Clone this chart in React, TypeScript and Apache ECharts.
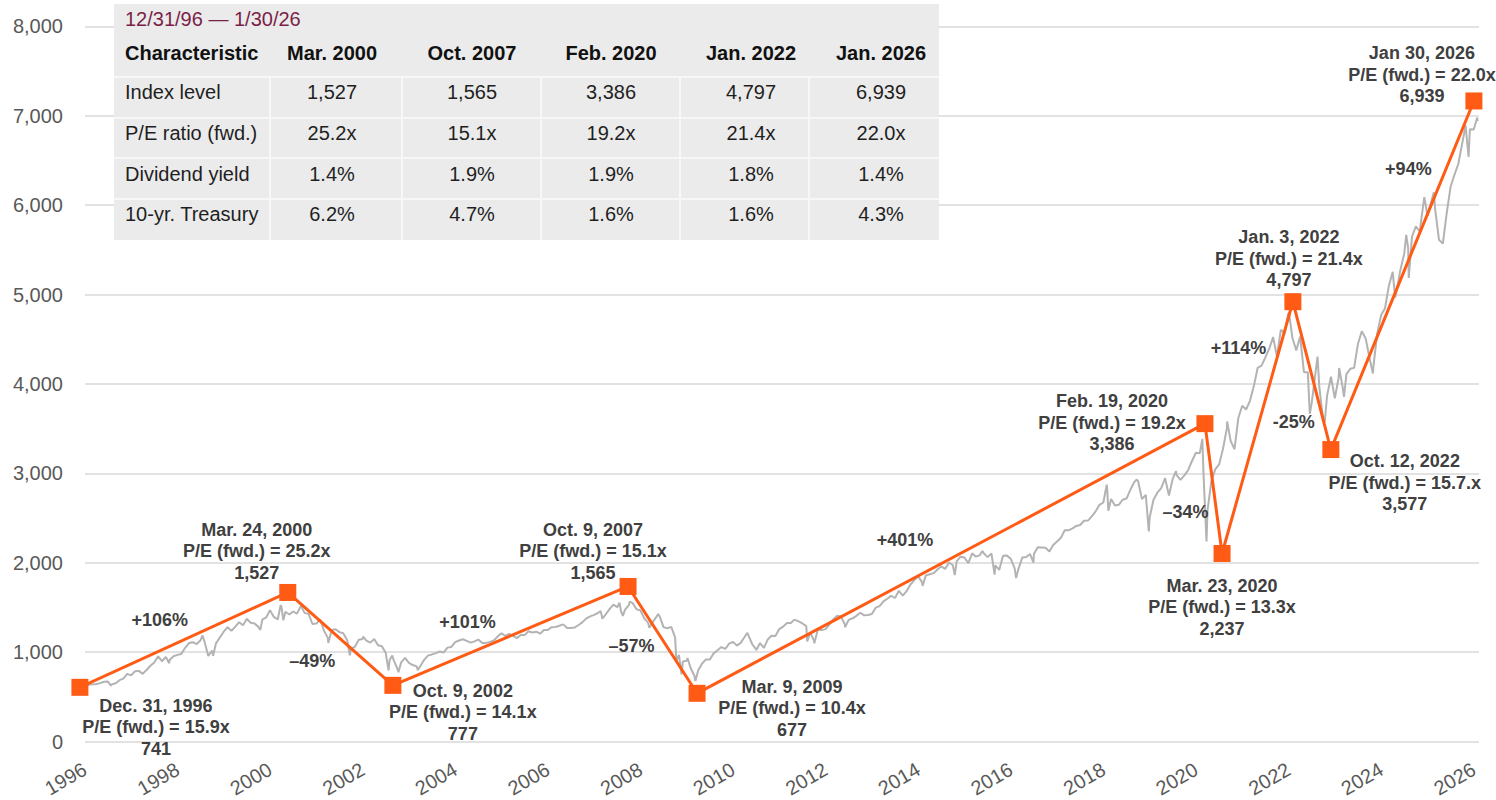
import React, { useEffect, useRef } from "react";
import * as echarts from "echarts";

// ---------- DATA ----------
// S&P 500 month-end closes, Jan 1996 .. Dec 2025
const spxMonthEnd: number[] = [
  636, 640, 645, 654, 669, 671, 640, 652, 687, 705, 757, 741,
  786, 791, 757, 801, 848, 885, 954, 899, 947, 915, 955, 970,
  980, 1049, 1102, 1112, 1091, 1134, 1121, 957, 1017, 1099, 1164, 1229,
  1280, 1238, 1286, 1335, 1302, 1373, 1329, 1320, 1283, 1363, 1389, 1469,
  1394, 1366, 1499, 1452, 1421, 1455, 1431, 1518, 1437, 1429, 1315, 1320,
  1366, 1240, 1160, 1249, 1256, 1224, 1211, 1134, 1041, 1060, 1139, 1148,
  1130, 1107, 1147, 1077, 1067, 990, 912, 916, 815, 886, 936, 880,
  856, 841, 848, 917, 964, 975, 990, 1008, 996, 1051, 1058, 1112,
  1131, 1145, 1126, 1107, 1121, 1141, 1102, 1104, 1115, 1130, 1174, 1212,
  1181, 1204, 1181, 1157, 1192, 1191, 1234, 1220, 1229, 1207, 1249, 1248,
  1280, 1281, 1295, 1311, 1270, 1270, 1277, 1304, 1336, 1378, 1401, 1418,
  1438, 1407, 1421, 1482, 1531, 1503, 1455, 1474, 1527, 1549, 1481, 1468,
  1379, 1331, 1323, 1386, 1400, 1280, 1267, 1283, 1166, 969, 896, 903,
  826, 735, 798, 873, 919, 919, 987, 1021, 1057, 1036, 1096, 1115,
  1074, 1104, 1169, 1187, 1089, 1031, 1102, 1049, 1141, 1183, 1181, 1258,
  1286, 1327, 1326, 1364, 1345, 1321, 1292, 1219, 1131, 1253, 1247, 1258,
  1312, 1366, 1408, 1398, 1310, 1362, 1379, 1407, 1441, 1412, 1416, 1426,
  1498, 1515, 1569, 1598, 1631, 1606, 1686, 1633, 1682, 1757, 1806, 1848,
  1783, 1859, 1872, 1884, 1924, 1960, 1931, 2003, 1972, 2018, 2068, 2059,
  1995, 2105, 2068, 2086, 2107, 2063, 2104, 1972, 1920, 2079, 2080, 2044,
  1940, 1932, 2060, 2065, 2097, 2099, 2174, 2171, 2168, 2126, 2199, 2239,
  2279, 2364, 2363, 2384, 2412, 2423, 2470, 2472, 2519, 2575, 2648, 2674,
  2824, 2714, 2641, 2648, 2705, 2718, 2816, 2902, 2914, 2712, 2760, 2507,
  2704, 2784, 2834, 2946, 2752, 2942, 2980, 2926, 2977, 3038, 3141, 3231,
  3226, 2954, 2585, 2912, 3044, 3100, 3271, 3500, 3363, 3270, 3622, 3756,
  3714, 3811, 3973, 4181, 4204, 4298, 4395, 4523, 4308, 4605, 4567, 4766,
  4516, 4374, 4530, 4132, 4132, 3785, 4130, 3955, 3586, 3872, 4080, 3840,
  4077, 3970, 4109, 4169, 4180, 4450, 4589, 4508, 4288, 4194, 4568, 4770,
  4846, 5096, 5254, 5036, 5278, 5460, 5522, 5648, 5762, 5705, 6032, 5882,
  6041, 5955, 5612, 5569, 5912, 6205, 6339, 6460, 6688, 6840, 6849, 6845,
];
const spxFirstYear = 1996;

// Intra-month highs / lows visible in the gray line
const spxSwingDates: string[] = [
  "1996-01-02", "1996-07-24", "1997-10-27", "1998-07-17", "1998-10-08",
  "1999-10-15", "2000-03-24", "2000-04-14", "2000-09-01", "2001-04-04",
  "2001-09-21", "2002-01-04", "2002-07-23", "2002-08-22", "2002-10-09",
  "2003-03-11", "2007-02-20", "2007-03-05", "2007-07-19", "2007-08-15",
  "2007-10-09", "2008-03-10", "2008-05-19", "2008-10-10", "2008-11-20",
  "2009-01-06", "2009-03-09", "2010-04-23", "2010-07-02", "2011-04-29",
  "2011-08-08", "2011-10-03", "2012-06-01", "2014-02-03", "2014-10-15",
  "2015-05-21", "2015-08-25", "2016-02-11", "2016-06-27", "2018-01-26",
  "2018-02-08", "2018-09-20", "2018-12-24", "2019-07-26", "2020-02-19",
  "2020-03-23", "2020-09-02", "2021-12-29", "2022-01-03", "2022-06-16",
  "2022-08-16", "2022-10-12", "2023-02-02", "2023-03-13", "2023-07-31",
  "2023-10-27", "2024-04-19", "2024-07-16", "2024-08-05", "2024-12-06",
  "2025-02-19", "2025-10-28", "2025-11-20", "2026-01-27", "2026-01-30",
];
const spxSwingValues: number[] = [
  620, 626, 877, 1187, 959,
  1247, 1527, 1357, 1521, 1103,
  966, 1173, 797, 963, 777,
  800, 1460, 1374, 1553, 1406,
  1565, 1273, 1427, 899, 752,
  935, 677, 1217, 1022, 1364,
  1119, 1099, 1278, 1742, 1862,
  2131, 1868, 1829, 2001, 2873,
  2581, 2931, 2351, 3026, 3386,
  2237, 3580, 4793, 4797, 3667,
  4305, 3577, 4179, 3856, 4589,
  4117, 4967, 5667, 5186, 6090,
  6144, 6891, 6538, 6979, 6939,
];

// Orange peak/trough path (positions as drawn, in decimal years / index points)
const turnYears: number[] = [1995.89, 2000.38, 2002.65, 2007.73, 2009.22, 2020.19, 2020.56, 2022.09, 2022.91, 2026.0];
const turnPlotValues: number[] = [607, 1668, 629, 1735, 540, 3556, 2104, 4920, 3266, 7165];
const turnDateText: string[] = [
  "Dec. 31, 1996", "Mar. 24, 2000", "Oct. 9, 2002", "Oct. 9, 2007", "Mar. 9, 2009",
  "Feb. 19, 2020", "Mar. 23, 2020", "Jan. 3, 2022", "Oct. 12, 2022", "Jan 30, 2026",
];
const turnPE: string[] = ["15.9x", "25.2x", "14.1x", "15.1x", "10.4x", "19.2x", "13.3x", "21.4x", "15.7.x", "22.0x"];
const turnLevel: string[] = ["741", "1,527", "777", "1,565", "677", "3,386", "2,237", "4,797", "3,577", "6,939"];
const segmentChange: string[] = ["+106%", "–49%", "+101%", "–57%", "+401%", "–34%", "+114%", "-25%", "+94%"];

// Axis
const xTickYears: number[] = [1996, 1998, 2000, 2002, 2004, 2006, 2008, 2010, 2012, 2014, 2016, 2018, 2020, 2022, 2024, 2026];
const yMax = 8000;
const yStep = 1000;

// Table
const tableTitle = "12/31/96 — 1/30/26";
const tableHeadLabel = "Characteristic";
const tableColumns: string[] = ["Mar. 2000", "Oct. 2007", "Feb. 2020", "Jan. 2022", "Jan. 2026"];
const tableRowLabels: string[] = ["Index level", "P/E ratio (fwd.)", "Dividend yield", "10-yr. Treasury"];
const tableIndexLevel: string[] = ["1,527", "1,565", "3,386", "4,797", "6,939"];
const tablePE: string[] = ["25.2x", "15.1x", "19.2x", "21.4x", "22.0x"];
const tableDivYield: string[] = ["1.4%", "1.9%", "1.9%", "1.8%", "1.4%"];
const tableTreasury: string[] = ["6.2%", "4.7%", "1.6%", "1.6%", "4.3%"];

// ---------- LAYOUT / STYLE ----------
const FONT = "'Liberation Sans', Arial, sans-serif";
const ORANGE = "#FF5B14";
const ANNO = "#404040";
const turnLabelOffsets: number[][] = [
  [76, 40], [-31, -41], [70, 27], [-35, -35], [95, 15],
  [-93, -1], [0, 54], [-4, -43], [74, 33], [-52, -26],
];
const changeLabelOffsets: number[][] = [
  [-24, -20], [-28, 22], [-43, -14], [-31, 6], [-46, -18],
  [-28, 23], [-19, -80], [-18, 46], [6, -106],
];
const TABLE = { left: 114, top: 4, right: 939, bottom: 240 };
const tableHLines = [77, 118, 158, 199];
const tableVLines = [270, 402, 541, 680, 809];
const tableColCenters = [332, 472, 611, 751, 881];
const tableRowCenters = [92, 133, 174, 214];
const tableTextLeft = 125;

function dateToYear(d: string): number {
  const [y, m, day] = d.split("-").map(Number);
  const start = Date.UTC(y, 0, 1);
  const end = Date.UTC(y + 1, 0, 1);
  return y + (Date.UTC(y, m - 1, day) - start) / (end - start);
}

function buildGray(): number[][] {
  const pts: number[][] = spxMonthEnd.map((v, i) => [spxFirstYear + (i + 1) / 12 - 0.004, v]);
  spxSwingDates.forEach((d, i) => pts.push([dateToYear(d), spxSwingValues[i]]));
  pts.sort((a, b) => a[0] - b[0]);
  return pts;
}

function txt(text: string, x: number, y: number, opts: any = {}) {
  return {
    type: "text",
    x,
    y,
    z: 101,
    style: {
      text,
      fill: opts.fill || "#1F1F1F",
      fontSize: opts.fontSize || 20,
      fontWeight: opts.bold ? "bold" : "normal",
      fontFamily: FONT,
      align: opts.align || "left",
      textAlign: opts.align || "left",
      verticalAlign: "middle",
      textVerticalAlign: "middle",
    },
  };
}

function buildTable(): any[] {
  const els: any[] = [];
  els.push({
    type: "rect",
    z: 100,
    shape: { x: TABLE.left, y: TABLE.top, width: TABLE.right - TABLE.left, height: TABLE.bottom - TABLE.top },
    style: { fill: "#EBEBEB" },
  });
  tableHLines.forEach((y) =>
    els.push({
      type: "line",
      z: 100,
      shape: { x1: TABLE.left, y1: y, x2: TABLE.right, y2: y },
      style: { stroke: "#F7F7F7", lineWidth: 2 },
    })
  );
  tableVLines.forEach((x) =>
    els.push({
      type: "line",
      z: 100,
      shape: { x1: x, y1: tableHLines[0], x2: x, y2: TABLE.bottom },
      style: { stroke: "#F7F7F7", lineWidth: 2 },
    })
  );
  els.push(txt(tableTitle, tableTextLeft, 19, { fill: "#7A1F48" }));
  els.push(txt(tableHeadLabel, tableTextLeft, 53, { bold: true, fill: "#111" }));
  tableColumns.forEach((c, i) => els.push(txt(c, tableColCenters[i], 53, { bold: true, align: "center", fill: "#111" })));
  const rows = [tableIndexLevel, tablePE, tableDivYield, tableTreasury];
  tableRowLabels.forEach((lab, r) => {
    els.push(txt(lab, tableTextLeft, tableRowCenters[r]));
    rows[r].forEach((v, c) => els.push(txt(v, tableColCenters[c], tableRowCenters[r], { align: "center" })));
  });
  return els;
}

export default function App() {
  const ref = useRef<HTMLDivElement>(null);
  useEffect(() => {
    if (!ref.current) return;
    const chart = echarts.init(ref.current, undefined, { renderer: "svg" });
    const gray = buildGray();
    const labelText = {
      color: ANNO,
      fontSize: 18,
      fontWeight: "bold",
      fontFamily: FONT,
      lineHeight: 21.5,
      align: "center",
      verticalAlign: "middle",
      opacity: 1,
      textBorderWidth: 0,
    };
    const turnData = turnYears.map((x, i) => ({
      value: [x, turnPlotValues[i]],
      label: {
        ...labelText,
        show: true,
        position: "inside",
        offset: turnLabelOffsets[i],
        formatter: `${turnDateText[i]}\nP/E (fwd.) = ${turnPE[i]}\n${turnLevel[i]}`,
      },
    }));
    const changeData = segmentChange.map((t, i) => ({
      value: [(turnYears[i] + turnYears[i + 1]) / 2, (turnPlotValues[i] + turnPlotValues[i + 1]) / 2],
      label: { ...labelText, show: true, position: "inside", offset: changeLabelOffsets[i], formatter: t },
    }));
    chart.setOption({
      animation: false,
      backgroundColor: "#ffffff",
      grid: { left: 85, right: 17, top: 26.3, bottom: 57.7, containLabel: false },
      xAxis: {
        type: "value",
        min: xTickYears[0],
        max: 2026.11,
        interval: 2,
        axisLine: { show: false },
        axisTick: { show: false },
        splitLine: { show: false },
        axisLabel: {
          rotate: 30,
          margin: 26,
          color: "#595959",
          fontSize: 20,
          fontFamily: FONT,
          formatter: (v: number) => (xTickYears.indexOf(Math.round(v * 1000) / 1000) >= 0 ? String(v) : ""),
        },
      },
      yAxis: {
        type: "value",
        min: 0,
        max: yMax,
        interval: yStep,
        axisLine: { show: false },
        axisTick: { show: false },
        splitLine: { lineStyle: { color: "#D9D9D9", width: 1.5 } },
        axisLabel: {
          margin: 22,
          color: "#595959",
          fontSize: 20,
          fontFamily: FONT,
          formatter: (v: number) => v.toLocaleString("en-US"),
        },
      },
      series: [
        {
          type: "line",
          data: gray,
          showSymbol: false,
          symbol: "none",
          lineStyle: { color: "#B3B3B3", width: 2 },
          z: 1,
          silent: true,
        },
        {
          type: "line",
          data: turnData,
          symbol: "rect",
          symbolSize: 17,
          showSymbol: true,
          clip: false,
          lineStyle: { color: ORANGE, width: 3 },
          itemStyle: { color: ORANGE },
          label: labelText,
          z: 5,
        },
        {
          type: "scatter",
          data: changeData,
          symbolSize: 0,
          itemStyle: { color: "#ffffff", opacity: 1 },
          label: labelText,
          emphasis: { disabled: true },
          z: 6,
        },
      ],
      graphic: { elements: buildTable() },
    });
    return () => chart.dispose();
  }, []);
  return (
    <div
      ref={ref}
      style={{ position: "absolute", left: 0, top: 0, width: 1496, height: 800, background: "#fff" }}
    />
  );
}
